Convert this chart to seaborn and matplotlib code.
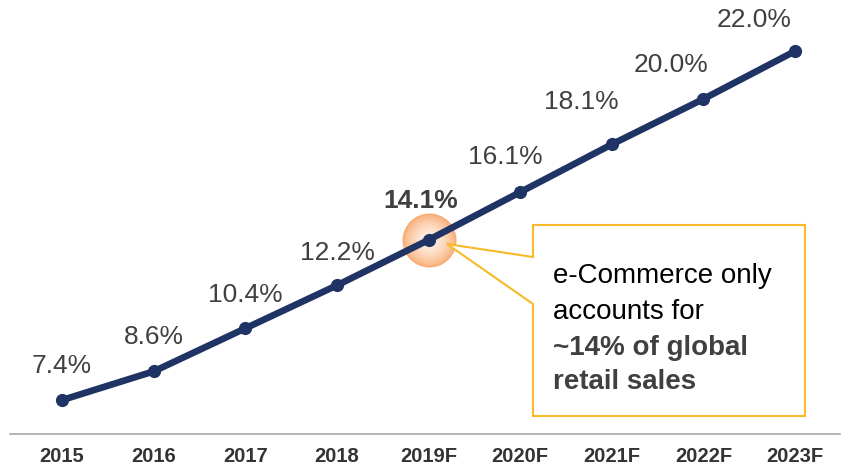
import numpy as np
import pandas as pd
import matplotlib
matplotlib.use('Agg')
import matplotlib.pyplot as plt
import seaborn as sns
from matplotlib.patches import Polygon
from matplotlib.colors import to_rgb

years = ['2015', '2016', '2017', '2018', '2019F', '2020F', '2021F', '2022F', '2023F']
share = [7.4, 8.6, 10.4, 12.2, 14.1, 16.1, 18.1, 20.0, 22.0]
labels = ['7.4%', '8.6%', '10.4%', '12.2%', '14.1%', '16.1%', '18.1%', '20.0%', '22.0%']
highlight = '2019F'
callout_lines = ['e-Commerce only', 'accounts for', '~14% of global', 'retail sales']

# label offsets in pixels (dx, dy)
label_offsets = [(0, 34), (0, 34), (0, 33), (0, 32), (-8, 39),
                 (-15, 35), (-31, 42), (-32, 34), (-41, 31)]

sns.set_theme(style='white')
plt.rcParams['font.family'] = ['Liberation Sans', 'DejaVu Sans']

W, H = 846, 471
fig = plt.figure(figsize=(W / 100, H / 100), dpi=100)
ax = fig.add_axes([10 / W, (H - 434) / H, 830 / W, 434 / H])

df = pd.DataFrame({'year': years, 'share': share, 'x': np.arange(len(years))})
navy = '#1F3464'

# glow behind highlighted point
hi = years.index(highlight)
outer = np.array(to_rgb('#F8AA70'))
inner = np.array(to_rgb('#FFF6EE'))
n = 25
for i in range(n):
    t = i / (n - 1)
    r = 27 * (1 - t) + 3 * t
    c = outer * (1 - t ** 0.7) + inner * t ** 0.7
    ax.scatter([hi], [share[hi]], s=(2 * r * 0.72) ** 2, color=c,
               linewidths=0, zorder=1 + i * 0.01)

sns.lineplot(data=df, x='x', y='share', ax=ax, color=navy, linewidth=4.8,
             marker='o', markersize=9.5, markeredgewidth=0, zorder=3)

for i, (lab, (dx, dy)) in enumerate(zip(labels, label_offsets)):
    bold = years[i] == highlight
    ax.annotate(lab, (i, share[i]), xytext=(dx, dy), textcoords='offset pixels',
                ha='center', va='center', fontsize=19,
                fontweight='bold' if bold else 'normal', color='#404040')

ax.set_xlim(-0.568, 8.49)
ax.set_ylim(5.98, 24.14)
ax.set_xticks(range(len(years)))
ax.set_xticklabels(years, fontsize=14.5, fontweight='bold', color='#333333')
ax.set_yticks([])
ax.tick_params(axis='x', length=0, pad=9.5)
ax.set_xlabel('')
ax.set_ylabel('')
for s in ['top', 'left', 'right']:
    ax.spines[s].set_visible(False)
ax.spines['bottom'].set_color('#A6A6A6')
ax.spines['bottom'].set_linewidth(1.2)
ax.patch.set_alpha(0)

# callout box
pts = [(533, 225), (805, 225), (805, 416), (533, 416), (533, 304), (447, 244), (533, 257)]
poly = Polygon([(x / W, 1 - y / H) for x, y in pts], closed=True,
               transform=fig.transFigure, facecolor='white', edgecolor='#F9B928',
               linewidth=1.5, zorder=5)
fig.add_artist(poly)

line_y = [283, 319, 355, 389]
for k, (txt, yy) in enumerate(zip(callout_lines, line_y)):
    bold = k >= 2
    fig.text(553 / W, 1 - yy / H, txt, ha='left', va='baseline', fontsize=20,
             fontweight='bold' if bold else 'normal',
             color='#404040' if bold else '#000000', zorder=6)

fig.savefig('out.png', dpi=100)
